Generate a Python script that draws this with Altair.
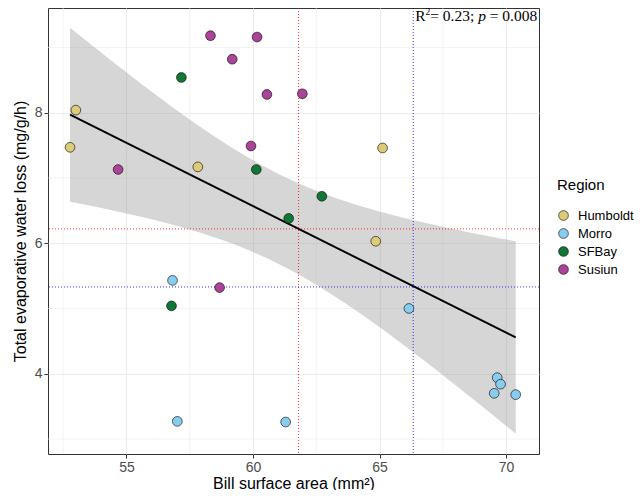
import altair as alt
import pandas as pd
import numpy as np

# ---- data ----
regions = (["Humboldt"] * 5 + ["Morro"] * 8 + ["SFBay"] * 5 + ["Susiun"] * 8)
bill_area = [52.77, 53.00, 57.82, 65.12, 64.85,
             56.82, 57.01, 61.29, 66.16, 69.65, 69.78, 69.53, 70.38,
             57.17, 60.13, 62.72, 61.41, 56.78,
             58.32, 60.16, 59.18, 60.55, 61.95, 59.92, 54.67, 58.68]
ewl = [7.47, 8.04, 7.17, 7.46, 6.03,
       5.43, 3.27, 3.26, 5.00, 3.94, 3.84, 3.70, 3.68,
       8.54, 7.13, 6.72, 6.38, 5.04,
       9.18, 9.16, 8.82, 8.28, 8.29, 7.49, 7.13, 5.32]
region_names = ["Humboldt", "Morro", "SFBay", "Susiun"]
region_colors = ["#DDCC77", "#88CCEE", "#117733", "#AA4499"]

vline_x = [61.80, 66.33]
hline_y = [6.22, 5.33]
ref_colors = ["#FF0000", "#0000FF"]

x_ticks = [55, 60, 65, 70]
y_ticks = [4, 6, 8]
x_minor = [52.5, 57.5, 62.5, 67.5]
y_minor = [3, 5, 7, 9]
x_domain = [51.9, 71.3]
y_domain = [2.77, 9.605]

# ---- tables ----
pts = pd.DataFrame({"x": bill_area, "y": ewl, "Region": regions})

xa = np.array(bill_area)
ya = np.array(ewl)
n = len(xa)
slope, intercept = np.polyfit(xa, ya, 1)
xs = np.linspace(xa.min(), xa.max(), 100)
yhat = intercept + slope * xs
resid = ya - (intercept + slope * xa)
s = np.sqrt(np.sum(resid ** 2) / (n - 2))
sxx = np.sum((xa - xa.mean()) ** 2)
se = s * np.sqrt(1.0 / n + (xs - xa.mean()) ** 2 / sxx)
tq = 2.0639
fit = pd.DataFrame({"x": xs, "y": yhat, "lo": yhat - tq * se, "hi": yhat + tq * se})

xm = pd.DataFrame({"x": x_minor})
ym = pd.DataFrame({"y": y_minor})

xs_ = alt.Scale(domain=x_domain, nice=False, zero=False)
ys_ = alt.Scale(domain=y_domain, nice=False, zero=False)

X = alt.X("x:Q", scale=xs_, title="Bill surface area (mm²)",
          axis=alt.Axis(values=x_ticks, format="d"))
Y = alt.Y("y:Q", scale=ys_, title="Total evaporative water loss (mg/g/h)",
          axis=alt.Axis(values=y_ticks, format="d"))

minor_x = alt.Chart(xm).mark_rule(color="#EBEBEB", strokeWidth=0.6).encode(x=alt.X("x:Q", scale=xs_))
minor_y = alt.Chart(ym).mark_rule(color="#EBEBEB", strokeWidth=0.6).encode(y=alt.Y("y:Q", scale=ys_))

band = alt.Chart(fit).mark_area(color="#999999", opacity=0.4).encode(
    x=X, y=alt.Y("lo:Q", scale=ys_), y2="hi:Q")
line = alt.Chart(fit).mark_line(color="black", strokeWidth=2).encode(x=X, y=Y)

ref_layers = []
for i, col in enumerate(ref_colors):
    ref_layers.append(
        alt.Chart(pd.DataFrame({"x": [vline_x[i]]})).mark_rule(
            strokeWidth=1, strokeDash=[1, 2], color=col, opacity=0.8).encode(x=alt.X("x:Q", scale=xs_)))
    ref_layers.append(
        alt.Chart(pd.DataFrame({"y": [hline_y[i]]})).mark_rule(
            strokeWidth=1, strokeDash=[1, 2], color=col, opacity=0.8).encode(y=alt.Y("y:Q", scale=ys_)))

points = alt.Chart(pts).mark_point(filled=True, size=95, opacity=1, stroke="black",
                                    strokeWidth=0.6).encode(
    x=X, y=Y,
    color=alt.Color("Region:N",
                    scale=alt.Scale(domain=region_names, range=region_colors),
                    legend=alt.Legend(title="Region", orient="none", legendX=509, legendY=170,
                                      titleFontSize=15, labelFontSize=13, titlePadding=16,
                                      symbolSize=95, symbolStrokeColor="black",
                                      symbolStrokeWidth=0.6, symbolType="circle",
                                      labelOffset=8, rowPadding=4, padding=0)))

ann = pd.DataFrame({"x": [vline_x[1]], "y": [y_domain[1]]})
base_t = alt.Chart(ann)
serif = "Liberation Serif"
enc = dict(x=alt.X("x:Q", scale=xs_), y=alt.Y("y:Q", scale=ys_))
t1 = base_t.mark_text(text="R", font=serif, fontSize=15.5, align="left", baseline="alphabetic",
                      dx=2, dy=13, color="black").encode(**enc)
t2 = base_t.mark_text(text="2", font=serif, fontSize=9.5, align="left", baseline="alphabetic",
                      dx=12.3, dy=7, color="black").encode(**enc)
t3 = base_t.mark_text(text="= 0.23;", font=serif, fontSize=15.5, align="left", baseline="alphabetic",
                      dx=17, dy=13, color="black").encode(**enc)
t4 = base_t.mark_text(text="p", font=serif, fontSize=15.5, fontStyle="italic", align="left",
                      baseline="alphabetic", dx=65, dy=13, color="black").encode(**enc)
t5 = base_t.mark_text(text="= 0.008", font=serif, fontSize=15.5, align="left", baseline="alphabetic",
                      dx=76.5, dy=13, color="black").encode(**enc)

chart = alt.layer(minor_x, minor_y, band, *ref_layers, line, points, t1, t2, t3, t4, t5).properties(
    width=491, height=446,
    autosize=alt.AutoSizeParams(type="none"),
    padding={"left": 40, "top": 0, "right": 95, "bottom": 36},
).configure_view(
    stroke="#333333", strokeWidth=1
).configure_axis(
    grid=True, gridColor="#EBEBEB", gridWidth=1.1, domain=False,
    tickColor="#333333", tickSize=4, tickWidth=1,
    labelFont="Liberation Sans", labelFontSize=14, labelColor="#4D4D4D", labelPadding=2,
    titleFont="Liberation Sans", titleFontSize=16, titleColor="black", titleFontWeight="normal",
).configure_axisY(titlePadding=6).configure_axisX(titlePadding=1).configure_legend(
    titleFont="Liberation Sans", labelFont="Liberation Sans", titleFontWeight="normal",
    titleColor="black", labelColor="black"
)

chart.save("out.html", embed_options={"renderer": "svg", "actions": False})
